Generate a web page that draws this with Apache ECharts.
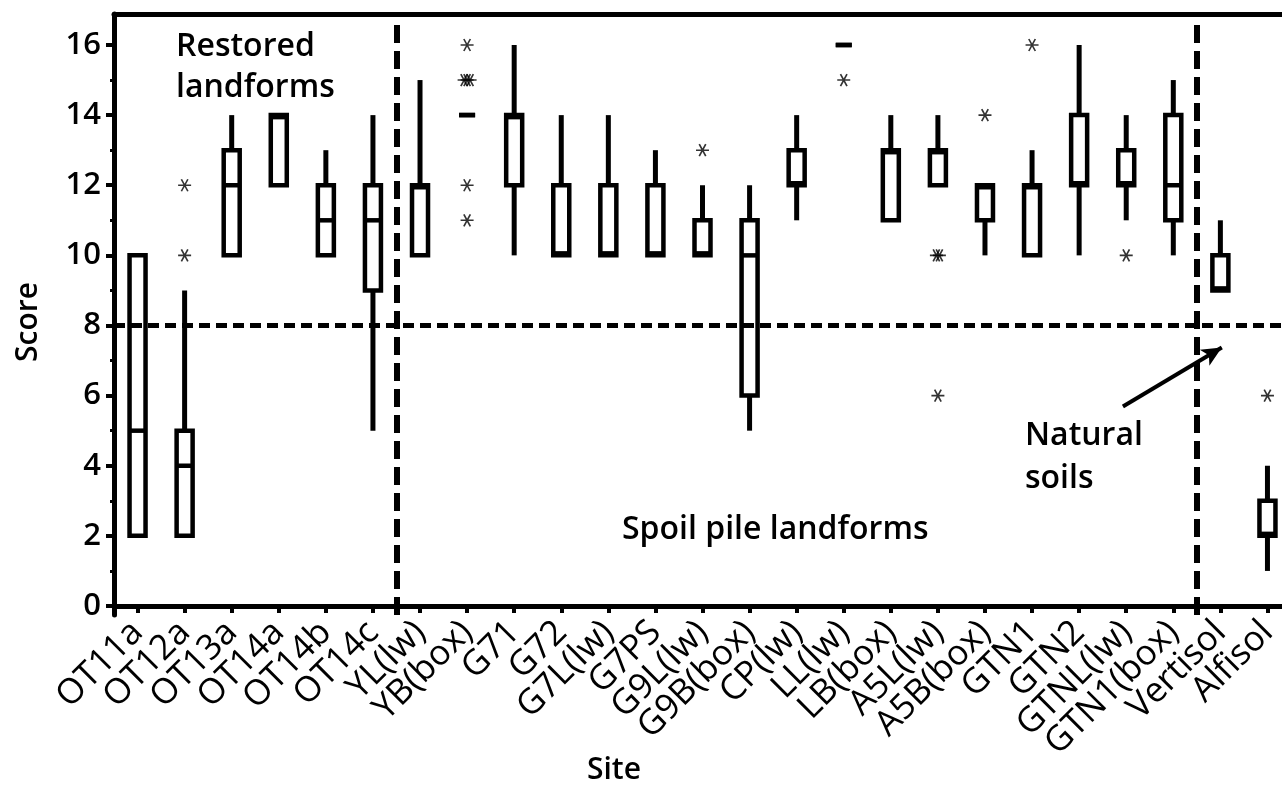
<!DOCTYPE html>
<html>
<head>
<meta charset="utf-8">
<script src="https://cdn.jsdelivr.net/npm/echarts@6/dist/echarts.min.js"></script>
<style>html,body{margin:0;padding:0;background:#fff;overflow:hidden;width:1282px;height:799px;}#c{width:1291px;height:799px;}</style>
</head>
<body>
<div id="c"></div>
<script>
// ---- data ----
const categories = ['OT11a','OT12a','OT13a','OT14a','OT14b','OT14c','YL(lw)','YB(box)','G71','G72','G7L(lw)','G7PS','G9L(lw)','G9B(box)','CP(lw)','LL(lw)','LB(box)','A5L(lw)','A5B(box)','GTN1','GTN2','GTNL(lw)','GTN1(box)','Vertisol','Alfisol'];
// [min, Q1, median, Q3, max]
const boxStats = [
  [2,2,5,10,10],
  [2,2,4,5,9],
  [10,10,12,13,14],
  [12,12,14,14,14],
  [10,10,11,12,13],
  [5,9,11,12,14],
  [10,10,12,12,15],
  [14,14,14,14,14],
  [10,12,14,14,16],
  [10,10,10,12,14],
  [10,10,10,12,14],
  [10,10,10,12,13],
  [10,10,10,11,12],
  [5,6,10,11,12],
  [11,12,12,13,14],
  [16,16,16,16,16],
  [11,11,13,13,14],
  [12,12,13,13,14],
  [10,11,12,12,12],
  [10,10,12,12,13],
  [10,12,12,14,16],
  [11,12,12,13,14],
  [10,11,12,14,15],
  [9,9,9,10,11],
  [1,2,2,3,4]
];
// outliers: [category index, score]
const outliers = [
  [1,10],[1,12],
  [7,16],[7,15],[7,15],[7,15],[7,12],[7,11],
  [12,13],
  [15,15],
  [17,10],[17,10],[17,6],
  [18,14],
  [19,16],
  [21,10],
  [24,6]
];
const groupSizes = [6, 17, 2];      // Restored, Spoil pile, Natural
const referenceScore = 8;
const yTicks = [0,2,4,6,8,10,12,14,16];
const yMinorTicks = [1,3,5,7,9,11,13,15];
const arrowFrom = [21.43, 5.69];
const arrowTo = [23.53, 7.37];

// ---- build ----
const FONT = '"Open Sans", sans-serif';
const boxData = boxStats.map((s, i) => [i].concat(s));

// spread duplicated outliers slightly so they show as overlapping stars
const dupCount = {}, dupSeen = {};
outliers.forEach(o => { const k = o.join('_'); dupCount[k] = (dupCount[k] || 0) + 1; });
const outlierData = outliers.map(o => {
  const k = o.join('_');
  const n = dupCount[k];
  const j = dupSeen[k] = (dupSeen[k] === undefined ? 0 : dupSeen[k] + 1);
  return { value: o, symbolOffset: [(j - (n - 1) / 2) * 3, 0] };
});

const breaks = [];
let acc = 0;
for (let g = 0; g < groupSizes.length - 1; g++) { acc += groupSizes[g]; breaks.push(acc); }

const asterisk = 'path://M0,5 L10,5 M2.5,0.7 L7.5,9.3 M7.5,0.7 L2.5,9.3';

const chart = echarts.init(document.getElementById('c'), null, { renderer: 'canvas' });
chart.setOption({
  animation: false,
  backgroundColor: '#fff',
  grid: { left: 114, right: 0, top: 14, bottom: 184, containLabel: false },
  xAxis: [
    {
      type: 'category', data: categories, boundaryGap: true,
      axisLine: { show: true, lineStyle: { color: '#000', width: 5 } },
      axisTick: { show: true, alignWithLabel: true, length: 7, lineStyle: { color: '#000', width: 4 } },
      axisLabel: { interval: 0, rotate: 45, margin: 12, color: '#000', fontSize: 35, fontWeight: 500, fontFamily: FONT },
      splitLine: { show: false }
    },
    {
      type: 'value', min: 0, max: categories.length, position: 'top',
      axisLine: { show: true, onZero: false, lineStyle: { color: '#000', width: 5 } },
      axisTick: { show: false }, axisLabel: { show: false }, splitLine: { show: false }
    }
  ],
  yAxis: [
    {
      type: 'value', min: -0.257, max: 16.884,
      axisLine: { show: true, lineStyle: { color: '#000', width: 5 } },
      axisTick: { show: true, customValues: yTicks, length: 8, lineStyle: { color: '#000', width: 4 } },
      axisLabel: { customValues: yTicks, margin: 13, color: '#000', fontSize: 31, fontWeight: 600, fontFamily: FONT },
      splitLine: { show: false }
    },
    {
      type: 'value', min: -0.257, max: 16.884, position: 'left',
      axisLine: { show: false },
      axisTick: { show: true, customValues: yMinorTicks, length: 4, lineStyle: { color: '#000', width: 3 } },
      axisLabel: { show: false }, splitLine: { show: false }
    }
  ],
  series: [
    {
      type: 'line', xAxisIndex: 1, yAxisIndex: 0, data: [], silent: true,
      markLine: {
        silent: true, symbol: ['none', 'none'], label: { show: false },
        data: [
          { yAxis: referenceScore, lineStyle: { type: [11, 6], width: 5, color: '#000' } }
        ].concat(breaks.map(b => ({ xAxis: b, lineStyle: { type: [18, 8], width: 6, color: '#000' } })))
      }
    },
    {
      type: 'line', xAxisIndex: 1, yAxisIndex: 0, data: [], silent: true,
      markLine: {
        silent: true, symbol: ['none', 'arrow'], symbolSize: [14, 20], label: { show: false },
        lineStyle: { type: 'solid', width: 4, color: '#000' },
        data: [[{ coord: arrowFrom }, { coord: arrowTo }]]
      }
    },
    {
      type: 'custom', xAxisIndex: 0, yAxisIndex: 0, data: boxData,
      encode: { x: 0, y: [1, 2, 3, 4, 5] },
      renderItem: function (params, api) {
        const x = api.value(0);
        const vMin = api.value(1), q1 = api.value(2), med = api.value(3), q3 = api.value(4), vMax = api.value(5);
        const pMin = api.coord([x, vMin]), pQ1 = api.coord([x, q1]), pMed = api.coord([x, med]),
              pQ3 = api.coord([x, q3]), pMax = api.coord([x, vMax]);
        const cx = pQ1[0], hw = 8;
        const children = [];
        const wStyle = { stroke: '#000', lineWidth: 5 };
        if (vMax > q3) children.push({ type: 'line', shape: { x1: cx, y1: pMax[1], x2: cx, y2: pQ3[1] }, style: wStyle });
        if (vMin < q1) children.push({ type: 'line', shape: { x1: cx, y1: pQ1[1], x2: cx, y2: pMin[1] }, style: wStyle });
        children.push({ type: 'rect', shape: { x: cx - hw, y: pQ3[1], width: hw * 2, height: pQ1[1] - pQ3[1] },
          style: { fill: '#fff', stroke: '#000', lineWidth: 4.5 } });
        let my = pMed[1];
        if (q3 > q1) {
          if (med === q1) my -= 2; else if (med === q3) my += 2;
        }
        children.push({ type: 'line', shape: { x1: cx - hw, y1: my, x2: cx + hw, y2: my }, style: { stroke: '#000', lineWidth: 4.5 } });
        return { type: 'group', children: children };
      },
      z: 3
    },
    {
      type: 'scatter', xAxisIndex: 0, yAxisIndex: 0, data: outlierData,
      symbol: asterisk, symbolSize: [13, 12],
      itemStyle: { color: 'rgba(0,0,0,0)', borderColor: '#000', borderWidth: 1.6 },
      z: 4
    }
  ],
  graphic: [
    { type: 'text', left: 176, top: 26, style: { text: 'Restored\nlandforms', font: '600 32px ' + FONT, fill: '#000', lineHeight: 41 } },
    { type: 'text', left: 622, top: 514, style: { text: 'Spoil pile landforms', font: '600 32px ' + FONT, fill: '#000' } },
    { type: 'text', left: 1025, top: 414, style: { text: 'Natural\nsoils', font: '600 32px ' + FONT, fill: '#000', lineHeight: 43 } },
    { type: 'text', x: 28, y: 322, rotation: Math.PI / 2, style: { text: 'Score', font: '600 30px ' + FONT, fill: '#000', align: 'center', verticalAlign: 'middle' } },
    { type: 'text', x: 614, y: 770, style: { text: 'Site', font: '600 30px ' + FONT, fill: '#000', align: 'center', verticalAlign: 'middle' } }
  ]
});
</script>
</body>
</html>
